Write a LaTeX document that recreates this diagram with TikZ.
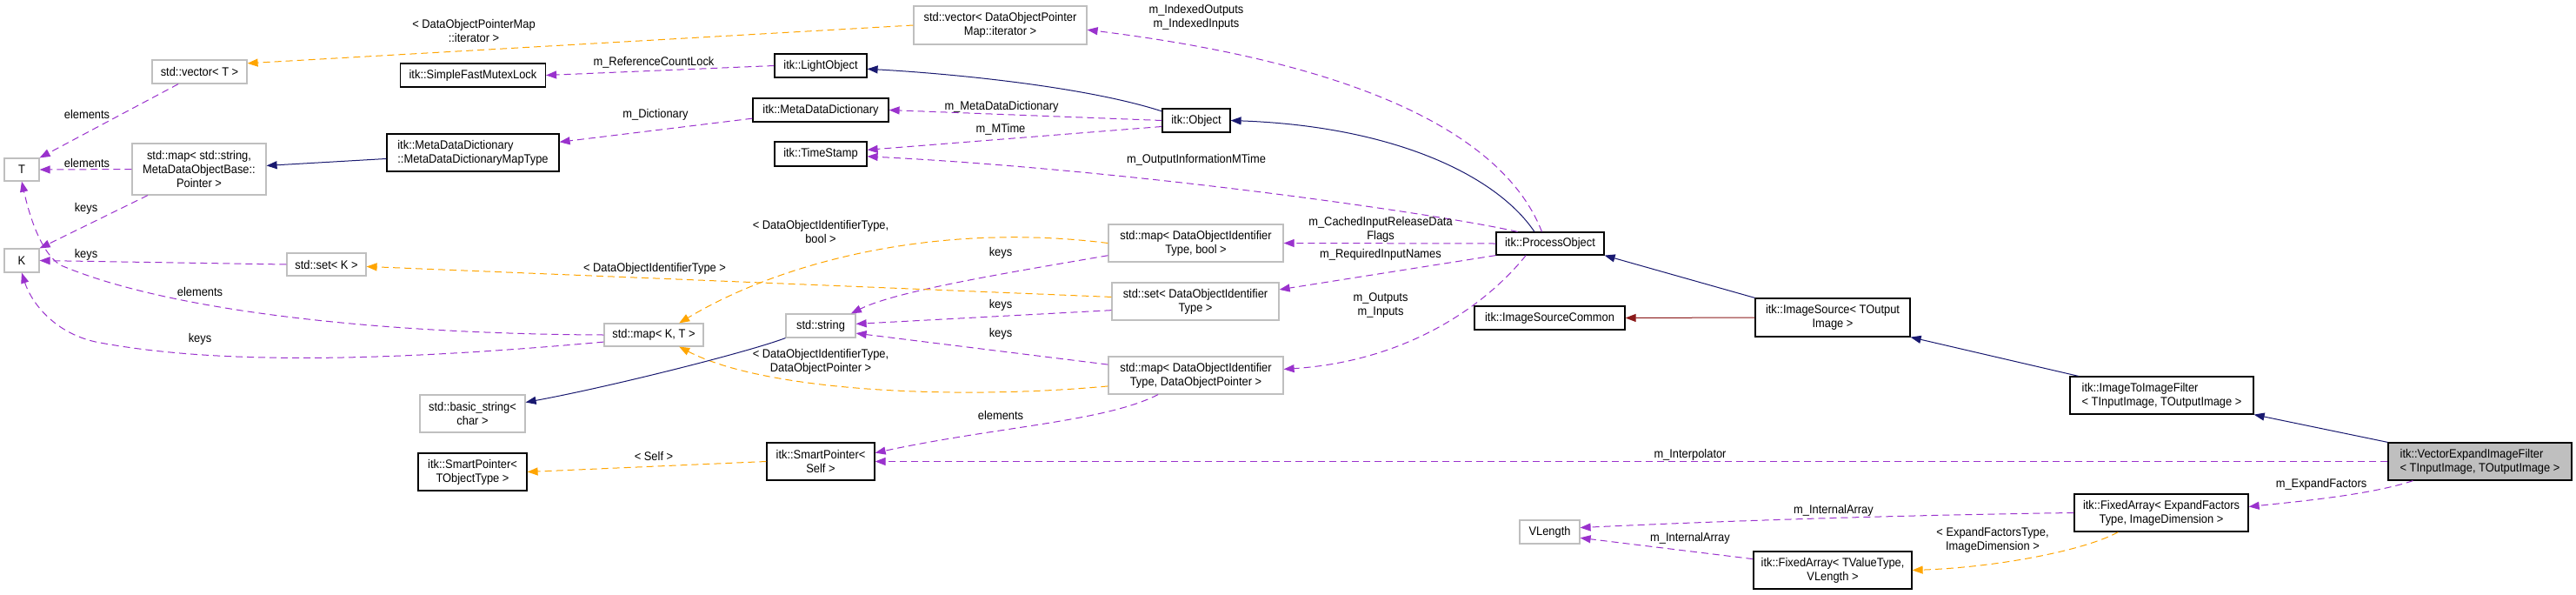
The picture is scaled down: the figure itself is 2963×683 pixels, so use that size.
\documentclass[tikz,border=0pt]{standalone}
\usepackage{fontspec}
\setmainfont{Liberation Sans}[FakeStretch=0.92]
\usetikzlibrary{arrows.meta}
\definecolor{purp}{RGB}{154,50,205}
\definecolor{orng}{RGB}{255,165,0}
\definecolor{dxblue}{RGB}{25,25,112}
\definecolor{fbrick}{RGB}{139,26,26}
\definecolor{boxgray}{RGB}{191,191,191}
\definecolor{fillgray}{RGB}{191,191,191}
\newcommand\dfont{\fontsize{14}{16}\selectfont}
\tikzset{
  gbox/.style={draw=boxgray, line width=1.2pt, fill=white, inner sep=0pt, align=center, font=\dfont},
  bbox/.style={draw=black, line width=1.2pt, fill=white, inner sep=0pt, align=center, font=\dfont},
  lbl/.style={inner sep=0pt, align=center, font=\dfont},
  tip/.style={-{Triangle[length=12pt,width=9pt]}},
  pedge/.style={draw=purp, line width=1pt, dash pattern=on 8pt off 5pt, tip},
  oedge/.style={draw=orng, line width=1pt, dash pattern=on 8pt off 5pt, tip},
  bedge/.style={draw=dxblue, line width=1pt, tip},
  redge/.style={draw=fbrick, line width=1pt, tip},
}
\begin{document}
\begin{tikzpicture}[x=1pt, y=-1pt]
\useasboundingbox (0,0) rectangle (2963,683);
\fill[white] (0,0) rectangle (2963,683);

% nodes
\node[gbox, minimum width=109pt, minimum height=27pt] (vecT) at (229.5,82.5) {std::vector< T >};
\node[bbox, minimum width=167pt, minimum height=27pt] (mutex) at (544,86.5) {itk::SimpleFastMutexLock};
\node[gbox, minimum width=40pt, minimum height=26pt] (T) at (25,195) {T};
\node[gbox, minimum width=154pt, minimum height=59pt] (mapStr) at (229,194.5) {std::map< std::string,\\MetaDataObjectBase::\\Pointer >};
\node[bbox, align=left, minimum width=198pt, minimum height=43pt] (mddMap) at (544,175.5) {itk::MetaDataDictionary\\::MetaDataDictionaryMapType};
\node[gbox, minimum width=40pt, minimum height=27pt] (K) at (25,299.5) {K};
\node[gbox, minimum width=91pt, minimum height=26pt] (setK) at (375.5,304) {std::set< K >};
\node[gbox, minimum width=114pt, minimum height=26pt] (mapKT) at (752,385) {std::map< K, T >};
\node[gbox, minimum width=121pt, minimum height=43pt] (bstr) at (543.5,475.5) {std::basic\_string<\\char >};
\node[bbox, minimum width=125pt, minimum height=43pt] (spTO) at (543.5,542.5) {itk::SmartPointer<\\TObjectType >};
\node[gbox, minimum width=199pt, minimum height=44pt] (vecIt) at (1150.5,29) {std::vector< DataObjectPointer\\Map::iterator >};
\node[bbox, minimum width=106pt, minimum height=27pt] (light) at (944,75.5) {itk::LightObject};
\node[bbox, minimum width=156pt, minimum height=27pt] (mdd) at (944,126.5) {itk::MetaDataDictionary};
\node[bbox, minimum width=78pt, minimum height=27pt] (obj) at (1376,138.5) {itk::Object};
\node[bbox, minimum width=106pt, minimum height=28pt] (ts) at (944,177) {itk::TimeStamp};
\node[gbox, minimum width=201pt, minimum height=43pt] (mapBool) at (1375.5,279.5) {std::map< DataObjectIdentifier\\Type, bool >};
\node[gbox, minimum width=192pt, minimum height=43pt] (setDOIT) at (1375,346.5) {std::set< DataObjectIdentifier\\Type >};
\node[gbox, minimum width=80pt, minimum height=27pt] (str) at (944,374.5) {std::string};
\node[gbox, minimum width=201pt, minimum height=43pt] (mapDOP) at (1375.5,431.5) {std::map< DataObjectIdentifier\\Type, DataObjectPointer >};
\node[bbox, minimum width=124pt, minimum height=43pt] (spSelf) at (944,530.5) {itk::SmartPointer<\\Self >};
\node[bbox, minimum width=124pt, minimum height=26pt] (po) at (1783,280) {itk::ProcessObject};
\node[bbox, minimum width=173pt, minimum height=27pt] (isc) at (1782.5,365.5) {itk::ImageSourceCommon};
\node[bbox, minimum width=178pt, minimum height=44pt] (is) at (2108,365) {itk::ImageSource< TOutput\\Image >};
\node[gbox, minimum width=69pt, minimum height=27pt] (vlen) at (1782.5,611.5) {VLength};
\node[bbox, minimum width=182pt, minimum height=43pt] (faV) at (2108,655.5) {itk::FixedArray< TValueType,\\VLength >};
\node[bbox, align=left, minimum width=211pt, minimum height=43pt] (i2i) at (2486.5,454.5) {itk::ImageToImageFilter\\< TInputImage, TOutputImage >};
\node[bbox, fill=fillgray, align=left, minimum width=211pt, minimum height=43pt] (vexp) at (2852.5,530.5) {itk::VectorExpandImageFilter\\< TInputImage, TOutputImage >};
\node[bbox, minimum width=200pt, minimum height=43pt] (faE) at (2486,589.5) {itk::FixedArray< ExpandFactors\\Type, ImageDimension >};

% edges
\draw[oedge] (vecIt.west) -- (vecT.10);
\draw[pedge] (light.west) -- (mutex.east);
\draw[pedge] (vecT.-150) -- (T.north east);
\draw[pedge] (mapStr.west) -- (T.east);
\draw[pedge] (mapStr.-153) -- (K.north east);
\draw[pedge] (setK.west) -- (K.east);
\draw[pedge] (mapKT.west) .. controls (450,384) and (200,360) .. (70,305) .. controls (45,290) and (32,240) .. (T.south);
\draw[pedge] (mapKT.-172) .. controls (450,415) and (250,420) .. (110,393) .. controls (60,382) and (35,345) .. (K.south);
\draw[bedge] (mddMap.-176) -- (mapStr.3);
\draw[pedge] (mdd.-173) -- (mddMap.7);
\draw[bedge] (obj.165) .. controls (1250,100) and (1100,85) .. (light.-4);
\draw[pedge] (obj.west) -- (mdd.east);
\draw[pedge] (obj.-170) -- (ts.5);
\draw[pedge] (po.160) .. controls (1650,245) and (1300,195) .. (ts.-3);
\draw[bedge] (po.143) .. controls (1720,200) and (1600,145) .. (obj.east);
\draw[pedge] (po.125) .. controls (1740,180) and (1620,80) .. (vecIt.-3);
\draw[pedge] (po.west) -- (mapBool.east);
\draw[pedge] (po.south west) -- (setDOIT.8);
\draw[pedge] (po.-154) .. controls (1710,350) and (1620,415) .. (mapDOP.4);
\draw[bedge] (is.north west) -- (po.south east);
\draw[redge] (is.west) -- (isc.east);
\draw[bedge] (i2i.167) -- (is.south east);
\draw[bedge] (vexp.north west) -- (i2i.south east);
\draw[pedge] (vexp.west) -- (spSelf.east);
\draw[pedge] (vexp.-164) .. controls (2730,568) and (2650,576) .. (faE.4);
\draw[pedge] (faE.west) .. controls (2200,592) and (2000,598) .. (vlen.8);
\draw[pedge] (faV.172) -- (vlen.-11);
\draw[oedge] (faE.-156) .. controls (2400,632) and (2300,652) .. (faV.east);
\draw[pedge] (mapDOP.-153) .. controls (1270,485) and (1150,490) .. (spSelf.9);
\draw[oedge] (spSelf.west) -- (spTO.east);
\draw[pedge] (mapDOP.173) -- (str.-12);
\draw[pedge] (setDOIT.-174) -- (str.3);
\draw[pedge] (mapBool.-172) .. controls (1150,315) and (1030,335) .. (str.22);
\draw[oedge] (mapBool.west) .. controls (1080,255) and (900,300) .. (mapKT.25);
\draw[oedge] (mapDOP.-173) .. controls (1100,460) and (880,450) .. (mapKT.-25);
\draw[oedge] (setDOIT.177) -- (setK.-3);
\draw[bedge] (str.south west) .. controls (860,405) and (700,445) .. (bstr.12);

% labels
\node[lbl] (l1) at (545,35) {< DataObjectPointerMap\\::iterator >};
\node[lbl] (l2) at (100,131) {elements};
\node[lbl] (l3) at (100,187) {elements};
\node[lbl] (l4) at (99,240) {keys};
\node[lbl] (l5) at (99,293) {keys};
\node[lbl] (l6) at (230,335) {elements};
\node[lbl] (l7) at (230,390) {keys};
\node[lbl] (l8) at (752,72) {m\_ReferenceCountLock};
\node[lbl] (l9) at (754,132) {m\_Dictionary};
\node[lbl] (l10) at (1152,123) {m\_MetaDataDictionary};
\node[lbl] (l11) at (1151,149) {m\_MTime};
\node[lbl] (l12) at (1376,20) {m\_IndexedOutputs\\m\_IndexedInputs};
\node[lbl] (l13) at (1376,184) {m\_OutputInformationMTime};
\node[lbl] (l14) at (944,266) {< DataObjectIdentifierType,\\bool >};
\node[lbl] (l15) at (1151,291) {keys};
\node[lbl] (l16) at (753,309) {< DataObjectIdentifierType >};
\node[lbl] (l17) at (1151,351) {keys};
\node[lbl] (l18) at (1151,384) {keys};
\node[lbl] (l19) at (944,416) {< DataObjectIdentifierType,\\DataObjectPointer >};
\node[lbl] (l20) at (1151,477) {elements};
\node[lbl] (l21) at (752,524) {< Self >};
\node[lbl] (l22) at (1588,264) {m\_CachedInputReleaseData\\Flags};
\node[lbl] (l23) at (1588,293) {m\_RequiredInputNames};
\node[lbl] (l24) at (1588,351) {m\_Outputs\\m\_Inputs};
\node[lbl] (l25) at (1944,523) {m\_Interpolator};
\node[lbl] (l26) at (2109,587) {m\_InternalArray};
\node[lbl] (l27) at (1944,619) {m\_InternalArray};
\node[lbl] (l28) at (2670,557) {m\_ExpandFactors};
\node[lbl] (l29) at (2292,621) {< ExpandFactorsType,\\ImageDimension >};
\end{tikzpicture}
\end{document}
